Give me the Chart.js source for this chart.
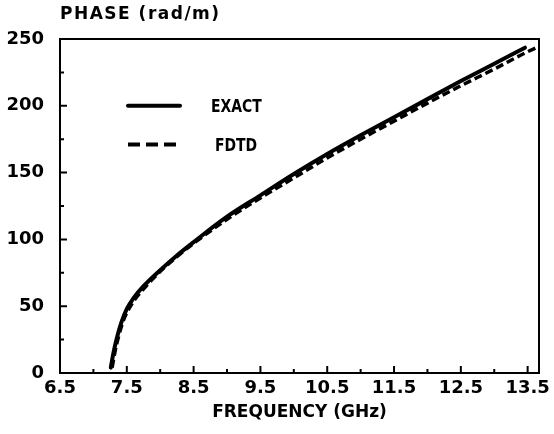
<!DOCTYPE html>
<html>
<head>
<meta charset="utf-8">
<script src="https://cdn.jsdelivr.net/npm/chart.js@4.4.1/dist/chart.umd.min.js"></script>
<style>
  body { margin: 0; background: #fff; }
  #wrap { width: 554px; height: 434px; }
</style>
</head>
<body>
<div id="wrap"><canvas id="chart" width="554" height="434"></canvas></div>
<script>
// values
const exactFreq  = [7.26, 7.30, 7.35, 7.42, 7.5, 7.6, 7.75, 8.0, 8.25, 8.5, 9.0, 9.5, 10.0, 10.5, 11.0, 11.5, 12.0, 12.5, 13.0, 13.46];
const exactPhase = [4, 15, 26, 38, 48, 56, 65, 77, 88, 98, 117, 133, 149, 164, 178, 191.5, 205, 218.5, 231.5, 243.5];

const fdtdFreq  = [7.28, 7.32, 7.37, 7.44, 7.52, 7.62, 7.77, 8.0, 8.25, 8.5, 9.0, 9.5, 10.0, 10.5, 11.0, 11.5, 12.0, 12.5, 13.0, 13.46, 13.67];
const fdtdPhase = [4, 15, 26, 38, 47, 55, 64, 76, 87, 97, 115, 131, 146, 161, 175, 188.5, 202, 215, 227.5, 239.5, 244.5];

const xTicks = [6.5, 7.5, 8.5, 9.5, 10.5, 11.5, 12.5, 13.5];
const yTicks = [0, 50, 100, 150, 200, 250];

const seriesNames = ['EXACT', 'FDTD'];

const FONT = "'DejaVu Sans', sans-serif";

const toPoints = (xs, ys) => xs.map((x, i) => ({ x: x, y: ys[i] }));

// box, inward tick marks, y title and legend
const decorations = {
  id: 'decorations',
  afterDatasetsDraw(chart) {
    const ctx = chart.ctx;
    const area = chart.chartArea;
    const xs = chart.scales.x;
    const ys = chart.scales.y;

    ctx.save();
    ctx.strokeStyle = '#000';
    ctx.lineWidth = 2;
    ctx.strokeRect(area.left, area.top, area.right - area.left, area.bottom - area.top);

    ctx.beginPath();
    xs.ticks.forEach((t) => {
      const px = xs.getPixelForValue(t.value);
      const len = xTicks.includes(t.value) ? 7 : 4;
      ctx.moveTo(px, area.bottom);
      ctx.lineTo(px, area.bottom - len);
    });
    ys.ticks.forEach((t) => {
      const py = ys.getPixelForValue(t.value);
      const len = yTicks.includes(t.value) ? 7 : 4;
      ctx.moveTo(area.left, py);
      ctx.lineTo(area.left + len, py);
    });
    ctx.stroke();

    // y axis title, horizontal above the axis
    ctx.fillStyle = '#000';
    ctx.font = 'bold 17px ' + FONT;
    ctx.letterSpacing = '1.5px';
    ctx.textBaseline = 'middle';
    ctx.textAlign = 'left';
    ctx.fillText('PHASE (rad/m)', area.left, 15);
    ctx.letterSpacing = '0px';

    // legend inside the plot
    const lx = 128, lw = 52;
    const rows = [ys.getPixelForValue(200), ys.getPixelForValue(171)];
    chart.data.datasets.forEach((ds, i) => {
      const ly = rows[i];
      ctx.beginPath();
      ctx.lineWidth = 4;
      ctx.lineCap = i === 0 ? 'round' : 'butt';
      ctx.setLineDash(i === 0 ? [] : [12, 6]);
      ctx.moveTo(lx, ly);
      ctx.lineTo(lx + lw, ly);
      ctx.stroke();
      ctx.setLineDash([]);

      ctx.save();
      ctx.translate(i === 0 ? 211 : 215, ly + 2);
      ctx.scale(0.82, 1);
      ctx.font = 'bold 17px ' + FONT;
      ctx.fillText(seriesNames[i], 0, 0);
      ctx.restore();
    });
    ctx.restore();
  }
};

const data = {
  datasets: [
    {
      label: seriesNames[0],
      data: toPoints(exactFreq, exactPhase),
      borderColor: '#000',
      borderWidth: 4,
      pointRadius: 0,
      cubicInterpolationMode: 'monotone',
      borderCapStyle: 'round'
    },
    {
      label: seriesNames[1],
      data: toPoints(fdtdFreq, fdtdPhase),
      borderColor: '#000',
      borderWidth: 3.5,
      borderDash: [8, 4],
      pointRadius: 0,
      cubicInterpolationMode: 'monotone'
    }
  ]
};

const options = {
  responsive: false,
  animation: false,
  layout: {
    padding: { top: 39, right: 15, left: 0, bottom: 0 }
  },
  plugins: {
    legend: { display: false },
    tooltip: { enabled: false }
  },
  scales: {
    x: {
      type: 'linear',
      min: 6.5,
      max: 13.67,
      grid: { display: false },
      border: { display: false },
      ticks: {
        stepSize: 0.5,
        includeBounds: false,
        autoSkip: false,
        maxRotation: 0,
        padding: -3,
        color: '#000',
        font: { family: FONT, size: 18, weight: 'bold' },
        callback: (v) => xTicks.includes(v) ? v.toFixed(1) : ''
      },
      title: {
        display: true,
        text: 'FREQUENCY (GHz)',
        color: '#000',
        font: { family: FONT, size: 17, weight: 'bold' },
        padding: { top: 0, bottom: 11 }
      },
      afterFit: (scale) => { scale.height = 61; }
    },
    y: {
      min: 0,
      max: 250,
      grid: { display: false },
      border: { display: false },
      ticks: {
        stepSize: 25,
        padding: 8,
        color: '#000',
        font: { family: FONT, size: 18, weight: 'bold' },
        callback: (v) => yTicks.includes(v) ? String(v) : ''
      },
      afterFit: (scale) => { scale.width = 60; }
    }
  }
};

new Chart(document.getElementById('chart'), {
  type: 'line',
  data,
  options,
  plugins: [decorations]
});
</script>
</body>
</html>
